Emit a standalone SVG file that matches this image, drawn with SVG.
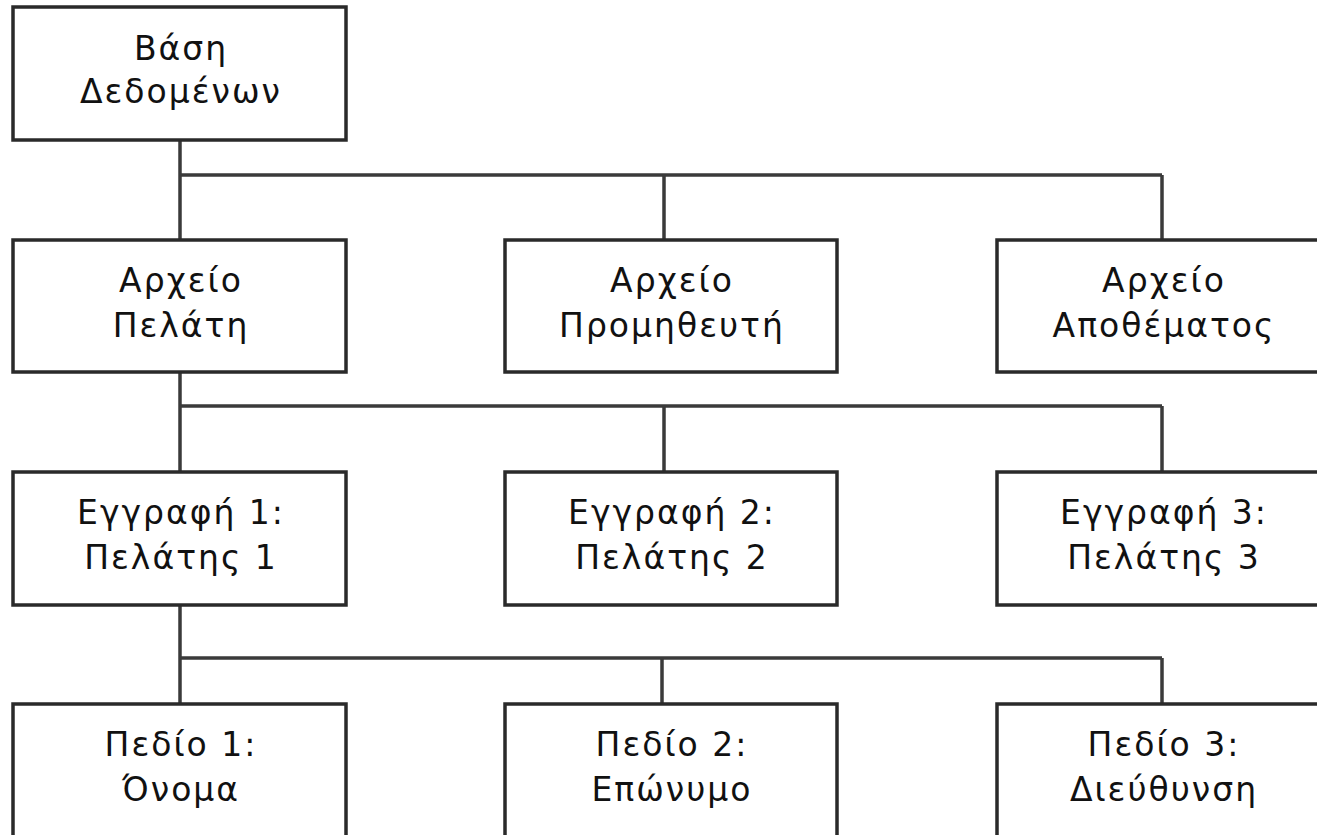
<svg xmlns="http://www.w3.org/2000/svg" width="1317" height="835" viewBox="0 0 1317 835">
  <style>
    .box { fill: #ffffff; stroke: #2a2a2a; stroke-width: 3.5; }
    .lbl { font-family: "DejaVu Sans", Verdana, sans-serif; font-size: 33px; letter-spacing: 2px; fill: #111; text-anchor: middle; }
    .wire { fill: none; stroke: #3a3a3a; stroke-width: 3.5; }
  </style>
  <rect width="1317" height="835" fill="#ffffff"/>

  <!-- connectors -->
  <g id="connectors">
    <path class="wire" d="M180 140 V240 M180 175 H1162 M664 175 V240 M1162 175 V240"/>
    <path class="wire" d="M180 372 V472 M180 406 H1162 M664 406 V472 M1162 406 V472"/>
    <path class="wire" d="M180 605 V704 M180 658 H1162 M662 658 V704 M1162 658 V704"/>
  </g>

  <!-- level 0: database -->
  <g id="database">
    <rect class="box" x="13" y="7" width="333" height="133"/>
    <text class="lbl" x="181" y="60">Βάση</text>
    <text class="lbl" x="181" y="103">Δεδομένων</text>
  </g>

  <!-- level 1: files -->
  <g id="file-customer">
    <rect class="box" x="13" y="240" width="333" height="132"/>
    <text class="lbl" x="181" y="292">Αρχείο</text>
    <text class="lbl" x="181" y="337">Πελάτη</text>
  </g>
  <g id="file-supplier">
    <rect class="box" x="505" y="240" width="332" height="132"/>
    <text class="lbl" x="672" y="292">Αρχείο</text>
    <text class="lbl" x="672" y="337">Προμηθευτή</text>
  </g>
  <g id="file-stock">
    <rect class="box" x="997" y="240" width="333" height="132"/>
    <text class="lbl" x="1164" y="292">Αρχείο</text>
    <text class="lbl" x="1164" y="337">Αποθέματος</text>
  </g>

  <!-- level 2: records -->
  <g id="record-1">
    <rect class="box" x="13" y="472" width="333" height="133"/>
    <text class="lbl" x="181" y="524">Εγγραφή 1:</text>
    <text class="lbl" x="181" y="569">Πελάτης 1</text>
  </g>
  <g id="record-2">
    <rect class="box" x="505" y="472" width="332" height="133"/>
    <text class="lbl" x="672" y="524">Εγγραφή 2:</text>
    <text class="lbl" x="672" y="569">Πελάτης 2</text>
  </g>
  <g id="record-3">
    <rect class="box" x="997" y="472" width="333" height="133"/>
    <text class="lbl" x="1164" y="524">Εγγραφή 3:</text>
    <text class="lbl" x="1164" y="569">Πελάτης 3</text>
  </g>

  <!-- level 3: fields -->
  <g id="field-1">
    <rect class="box" x="13" y="704" width="333" height="150"/>
    <text class="lbl" x="181" y="756">Πεδίο 1:</text>
    <text class="lbl" x="181" y="801">Όνομα</text>
  </g>
  <g id="field-2">
    <rect class="box" x="505" y="704" width="332" height="150"/>
    <text class="lbl" x="672" y="756">Πεδίο 2:</text>
    <text class="lbl" x="672" y="801">Επώνυμο</text>
  </g>
  <g id="field-3">
    <rect class="box" x="997" y="704" width="333" height="150"/>
    <text class="lbl" x="1164" y="756">Πεδίο 3:</text>
    <text class="lbl" x="1164" y="801">Διεύθυνση</text>
  </g>
</svg>
